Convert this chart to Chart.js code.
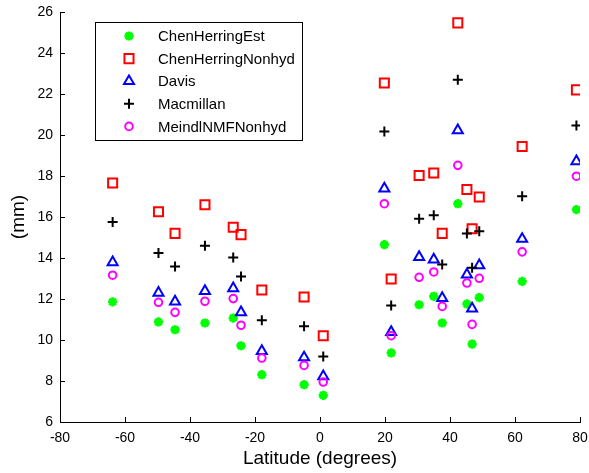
<!DOCTYPE html>
<html>
<head>
<meta charset="utf-8">
<script src="https://cdn.jsdelivr.net/npm/chart.js@4/dist/chart.umd.min.js"></script>
<style>
  html, body { margin: 0; padding: 0; background: #fff; }
  #wrap { width: 589px; height: 473px; position: relative; }
</style>
</head>
<body>
<div id="wrap"><canvas id="latChart"></canvas></div>
<script>
// station latitudes (same for every method)
const latitudes = [-63.8, -49.7, -44.6, -35.4, -26.7, -24.3, -17.9, -4.9, 1.0, 19.8,
                   21.9, 30.5, 35.0, 37.6, 42.4, 45.2, 46.8, 49.0, 62.2, 78.9];

const chenHerringEst    = [11.86, 10.88, 10.50, 10.83, 11.07, 9.72, 8.31, 7.82, 7.30, 14.65,
                           9.37, 11.72, 12.13, 10.83, 16.65, 11.76, 9.80, 12.07, 12.86, 16.36];
const chenHerringNonhyd = [17.66, 16.26, 15.20, 16.60, 15.50, 15.14, 12.44, 12.10, 10.21, 22.54,
                           12.98, 18.02, 18.15, 15.20, 25.47, 17.34, 15.43, 16.98, 19.44, 22.20];
const davis             = [13.79, 12.30, 11.87, 12.39, 12.52, 11.35, 9.46, 9.15, 8.23, 17.39,
                           10.39, 14.05, 13.92, 12.05, 20.23, 13.19, 11.53, 13.64, 14.93, 18.72];
const macmillan         = [15.76, 14.25, 13.59, 14.60, 14.03, 13.10, 10.96, 10.67, 9.20, 20.17,
                           11.68, 15.91, 16.08, 13.68, 22.70, 15.20, 13.52, 15.30, 17.01, 20.46];
const meindlNMFNonhyd   = [13.16, 11.84, 11.35, 11.89, 12.02, 10.72, 9.12, 8.76, 7.95, 16.65,
                           10.21, 13.06, 13.32, 11.64, 18.52, 12.78, 10.76, 13.01, 14.30, 17.99];

const seriesNames = ['ChenHerringEst', 'ChenHerringNonhyd', 'Davis', 'Macmillan', 'MeindlNMFNonhyd'];
const xTicks = [-80, -60, -40, -20, 0, 20, 40, 60, 80];
const yTicks = [6, 8, 10, 12, 14, 16, 18, 20, 22, 24, 26];

document.addEventListener('DOMContentLoaded', function () {
    const fontFamily = '"Liberation Sans", Arial, Helvetica, sans-serif';
    Chart.defaults.font.family = fontFamily;
    Chart.defaults.color = '#000';

    const pts = vals => vals.map((v, i) => ({ x: latitudes[i], y: v }));

    // MATLAB style: ticks point into the plot
    const innerTicks = {
        id: 'innerTicks',
        beforeDatasetsDraw(chart) {
            const { ctx, chartArea: a, scales: { x, y } } = chart;
            ctx.save();
            ctx.strokeStyle = '#000';
            ctx.lineWidth = 1;
            ctx.beginPath();
            xTicks.forEach(v => {
                const px = Math.round(x.getPixelForValue(v)) + 0.5;
                ctx.moveTo(px, a.bottom);
                ctx.lineTo(px, a.bottom - 5);
            });
            yTicks.forEach(v => {
                const py = Math.round(y.getPixelForValue(v)) + 0.5;
                ctx.moveTo(a.left, py);
                ctx.lineTo(a.left + 5, py);
            });
            ctx.stroke();
            ctx.restore();
        }
    };

    // boxed legend in the upper left of the plot
    const boxLegend = {
        id: 'boxLegend',
        afterDraw(chart) {
            const ctx = chart.ctx;
            ctx.save();
            ctx.fillStyle = '#fff';
            ctx.fillRect(95.5, 22.5, 207, 118);
            ctx.strokeStyle = '#000';
            ctx.lineWidth = 1;
            ctx.strokeRect(95.5, 22.5, 207, 118);
            ctx.font = '15px ' + fontFamily;
            ctx.textBaseline = 'middle';
            ctx.textAlign = 'left';
            chart.data.datasets.forEach((ds, i) => {
                const y = 36 + i * 22.6;
                ctx.strokeStyle = ds.borderColor;
                ctx.fillStyle = ds.backgroundColor;
                ctx.lineWidth = ds.borderWidth;
                Chart.helpers.drawPoint(ctx, {
                    pointStyle: ds.pointStyle, radius: ds.pointRadius,
                    borderWidth: ds.borderWidth, rotation: 0
                }, 129, y);
                ctx.fillStyle = '#000';
                ctx.fillText(ds.label, 158, y + 1);
            });
            ctx.restore();
        }
    };

    const styles = [
        { color: '#00ff00', pointStyle: 'star', r: 4.6, w: 2.8 },
        { color: '#ff0000', pointStyle: 'rect', r: 6.4, w: 2 },
        { color: '#0000ff', pointStyle: 'triangle', r: 5.8, w: 2 },
        { color: '#000000', pointStyle: 'cross', r: 5, w: 2 },
        { color: '#ff00ff', pointStyle: 'circle', r: 3.8, w: 2 }
    ];
    const values = [chenHerringEst, chenHerringNonhyd, davis, macmillan, meindlNMFNonhyd];

    new Chart(document.getElementById('latChart'), {
        type: 'scatter',
        data: {
            datasets: values.map((vals, i) => ({
                label: seriesNames[i],
                data: pts(vals),
                pointStyle: styles[i].pointStyle,
                pointRadius: styles[i].r,
                pointHoverRadius: styles[i].r,
                borderWidth: styles[i].w,
                borderColor: styles[i].color,
                backgroundColor: 'rgba(0,0,0,0)',
                order: values.length - i // later series drawn on top
            }))
        },
        options: {
            responsive: true,
            maintainAspectRatio: false,
            animation: false,
            layout: { padding: { top: 12, right: 9, left: 0, bottom: 0 } },
            plugins: {
                legend: { display: false },
                tooltip: { enabled: false }
            },
            scales: {
                x: {
                    type: 'linear',
                    min: -80,
                    max: 80,
                    afterBuildTicks: s => { s.ticks = xTicks.map(v => ({ value: v })); },
                    afterFit: s => { s.height = 51; s.paddingLeft = 0; s.paddingRight = 0; },
                    grid: { display: false, drawTicks: false },
                    border: { display: true, color: '#000', width: 1 },
                    ticks: { font: { size: 14 }, padding: 8, maxRotation: 0 },
                    title: {
                        display: true,
                        text: 'Latitude (degrees)',
                        font: { size: 19 },
                        padding: { top: 0, bottom: 3 }
                    }
                },
                y: {
                    type: 'linear',
                    min: 6,
                    max: 26,
                    afterBuildTicks: s => { s.ticks = yTicks.map(v => ({ value: v })); },
                    afterFit: s => { s.width = 60; s.paddingTop = 0; s.paddingBottom = 0; },
                    grid: { display: false, drawTicks: false },
                    border: { display: true, color: '#000', width: 1 },
                    ticks: { font: { size: 14 }, padding: 7 },
                    title: {
                        display: true,
                        text: '(mm)',
                        font: { size: 19 },
                        padding: { top: 7, bottom: 0 }
                    }
                }
            }
        },
        plugins: [innerTicks, boxLegend]
    });
});
</script>
</body>
</html>
